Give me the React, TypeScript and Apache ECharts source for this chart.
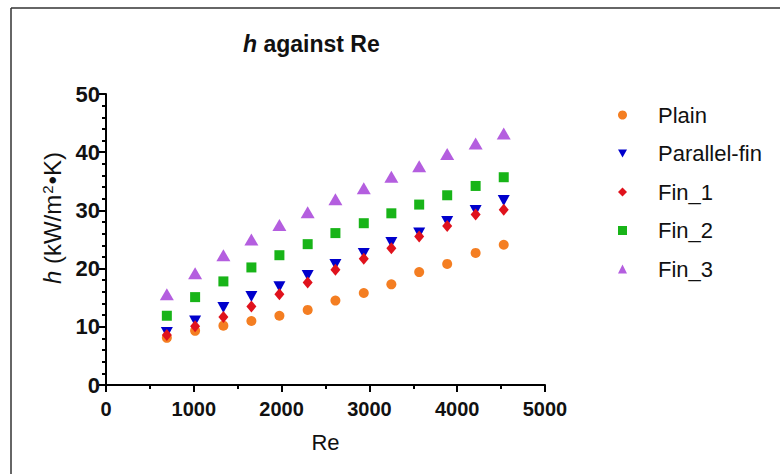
import React, { useEffect, useRef } from "react";
import * as echarts from "echarts";

const reValues = [693, 1015, 1337, 1656, 1975, 2297, 2613, 2936, 3250, 3567, 3886, 4210, 4530];
const plain = [8.1, 9.3, 10.2, 11.0, 11.9, 12.9, 14.5, 15.8, 17.3, 19.4, 20.8, 22.7, 24.1];
const parallelFin = [9.0, 11.0, 13.3, 15.2, 16.9, 18.8, 20.7, 22.6, 24.5, 26.1, 28.1, 30.0, 31.7];
const fin1 = [8.6, 10.1, 11.7, 13.5, 15.6, 17.6, 19.8, 21.7, 23.5, 25.5, 27.3, 29.3, 30.1];
const fin2 = [11.9, 15.1, 17.8, 20.2, 22.3, 24.2, 26.1, 27.8, 29.5, 31.0, 32.6, 34.2, 35.7];
const fin3 = [15.6, 19.2, 22.3, 25.0, 27.5, 29.7, 31.9, 33.8, 35.8, 37.6, 39.7, 41.5, 43.2];

const seriesNames = ["Plain", "Parallel-fin", "Fin_1", "Fin_2", "Fin_3"];
const seriesValues = [plain, parallelFin, fin1, fin2, fin3];
const seriesColors = ["#F47E22", "#0000CC", "#E0121C", "#18B418", "#B45EDF"];
const seriesSymbols = ["circle", "path://M0,0L10,0L5,9Z", "diamond", "rect", "triangle"];
const seriesSizes: any[] = [10, [12, 11], [10, 12], 10, [14, 12]];

const FONT = "'Liberation Sans', Arial, Helvetica, sans-serif";

export default function App() {
  const ref = useRef<HTMLDivElement>(null);
  useEffect(() => {
    if (!ref.current) return;
    const chart = echarts.init(ref.current, undefined, { renderer: "svg" });
    const series = seriesNames.map((name, i) => ({
      name,
      type: "scatter",
      symbol: seriesSymbols[i],
      symbolSize: seriesSizes[i],
      itemStyle: { color: seriesColors[i], opacity: 1 },
      data: reValues.map((x, j) => [x, seriesValues[i][j]]),
      z: 2 + i,
    }));
    chart.setOption({
      animation: false,
      backgroundColor: "#ffffff",
      textStyle: { fontFamily: FONT },
      title: {
        text: "{i|h}{n| against Re}",
        left: 243,
        top: 32,
        padding: 0,
        textStyle: {
          rich: {
            i: { fontFamily: FONT, fontSize: 23, fontWeight: "bold", fontStyle: "italic", color: "#111" },
            n: { fontFamily: FONT, fontSize: 23, fontWeight: "bold", color: "#111" },
          },
        },
      },
      legend: {
        orient: "vertical",
        left: 618,
        top: 104,
        padding: 0,
        itemWidth: 9,
        itemHeight: 9,
        itemGap: 16.5,
        data: seriesNames,
        textStyle: {
          fontFamily: FONT,
          fontSize: 22,
          color: "#111",
          lineHeight: 22,
          padding: [0, 0, 0, 26],
        },
      },
      grid: { left: 106, right: 235, top: 94, bottom: 89, containLabel: false },
      xAxis: {
        type: "value",
        min: 0,
        max: 5000,
        interval: 1000,
        name: "Re",
        nameLocation: "middle",
        nameGap: 46,
        nameTextStyle: { fontFamily: FONT, fontSize: 22, color: "#111" },
        splitLine: { show: false },
        axisLine: { show: true, onZero: false, lineStyle: { color: "#000", width: 2 } },
        axisTick: { show: true, length: 7, lineStyle: { color: "#000", width: 2 } },
        minorTick: { show: true, splitNumber: 2, length: 4, lineStyle: { color: "#000", width: 2 } },
        axisLabel: {
          fontFamily: FONT,
          fontSize: 20,
          fontWeight: "bold",
          color: "#111",
          margin: 14,
          formatter: (v: number) => String(v),
        },
      },
      yAxis: {
        type: "value",
        min: 0,
        max: 50,
        interval: 10,
        splitLine: { show: false },
        axisLine: { show: true, onZero: false, lineStyle: { color: "#000", width: 2 } },
        axisTick: { show: true, length: 7, lineStyle: { color: "#000", width: 2 } },
        minorTick: { show: true, splitNumber: 5, length: 4, lineStyle: { color: "#000", width: 2 } },
        axisLabel: {
          fontFamily: FONT,
          fontSize: 22,
          fontWeight: "bold",
          color: "#111",
          margin: 6,
          formatter: (v: number) => String(v),
        },
      },
      graphic: [
        {
          type: "line",
          shape: { x1: 11, y1: 8, x2: 11, y2: 474 },
          style: { stroke: "#333", lineWidth: 1.5 },
        },
        {
          type: "line",
          shape: { x1: 11, y1: 8, x2: 780, y2: 8 },
          style: { stroke: "#333", lineWidth: 1.5 },
        },
        {
          type: "text",
          x: 52,
          y: 218,
          rotation: Math.PI / 2,
          style: {
            text: "{i|h} (kW/m{s|2}•K)",
            align: "center",
            verticalAlign: "middle",
            fontFamily: FONT,
            fontSize: 24,
            fill: "#111",
            rich: {
              i: { fontFamily: FONT, fontSize: 24, fontStyle: "italic", fill: "#111" },
              s: { fontFamily: FONT, fontSize: 15, fill: "#111", verticalAlign: "top", padding: [0, 1, 10, 1] },
            },
          },
        },
      ],
      series,
    });
    return () => chart.dispose();
  }, []);
  return <div ref={ref} style={{ position: "absolute", left: 0, top: 0, width: 780, height: 474 }} />;
}
